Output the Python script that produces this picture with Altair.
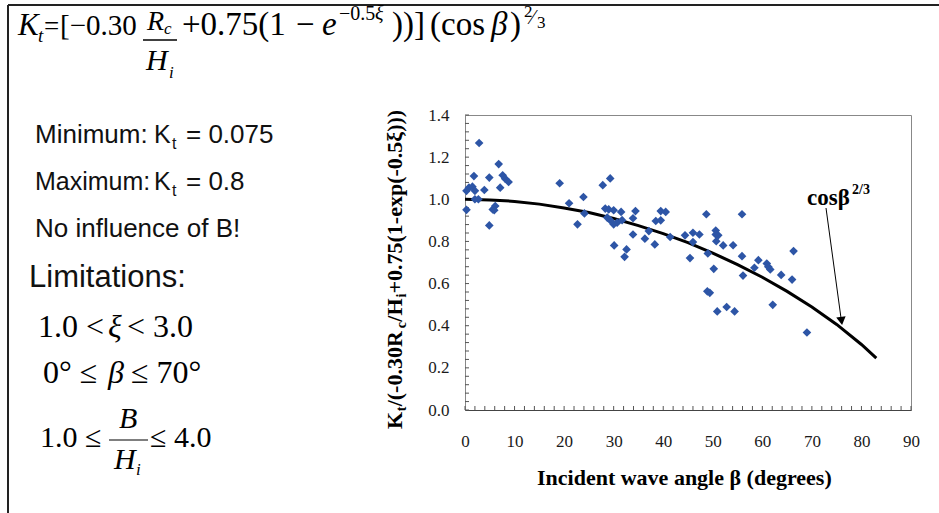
import altair as alt
import pandas as pd

# ---------------- data ----------------
beta = [0.3, 0.8, 1.5, 1.8, 2.0, 2.0, 2.7, 0.3, 2.85, 3.9, 4.9, 4.9, 5.6, 6.1, 5.9,
        6.8, 7.6, 8.1, 8.8, 7.1,
        19.1, 21.0, 22.7, 23.9, 24.1, 27.8, 29.3,
        28.3, 29.0, 30.0, 31.5, 28.7, 29.3, 30.0, 30.7, 31.7, 30.1, 32.6, 32.2,
        34.4, 33.9, 33.9, 36.3, 37.1, 38.3, 38.5, 39.5, 39.5, 40.5, 41.4,
        44.4, 46.0, 47.3, 46.0, 45.4, 48.7, 50.6, 50.6, 51.1, 50.7, 52.1, 54.1,
        49.0, 55.9, 55.9, 50.2, 56.1, 59.2, 58.4, 60.9, 61.2, 61.6, 63.8, 66.0,
        66.3, 48.9, 49.4, 50.9, 52.8, 54.4, 62.1, 69.0]
kt_ratio = [1.04, 1.055, 1.06, 1.11, 1.04, 1.0, 1.0, 0.95, 1.267, 1.044, 1.103, 0.876, 0.952, 0.968, 0.948,
            1.167, 1.114, 1.098, 1.082, 1.055,
            1.076, 0.981, 0.881, 1.011, 0.933, 1.067, 1.099,
            0.956, 0.952, 0.948, 0.94, 0.913, 0.901, 0.881, 0.889, 0.901, 0.781, 0.762, 0.727,
            0.944, 0.91, 0.833, 0.813, 0.849, 0.786, 0.897, 0.9, 0.944, 0.94, 0.821,
            0.829, 0.841, 0.833, 0.797, 0.721, 0.929, 0.852, 0.833, 0.829, 0.801, 0.781, 0.782,
            0.743, 0.929, 0.73, 0.67, 0.638, 0.711, 0.675, 0.695, 0.68, 0.667, 0.641, 0.619,
            0.754, 0.563, 0.556, 0.468, 0.489, 0.468, 0.499, 0.368]

curve_beta = [0, 5, 10, 15, 20, 25, 30, 35, 40, 45, 50, 55, 60, 65, 70, 75, 80, 83]
curve_val = [1.0, 0.997, 0.990, 0.977, 0.959, 0.937, 0.909, 0.875, 0.837, 0.794,
             0.745, 0.690, 0.630, 0.563, 0.489, 0.406, 0.311, 0.246]

x_ticks_minor = list(range(0, 91, 2))
y_ticks_minor = [round(i * 0.04, 2) for i in range(0, 36)]
x_labels = list(range(0, 91, 10))
y_labels = [0.0, 0.2, 0.4, 0.6, 0.8, 1.0, 1.2, 1.4]

# ---------------- layout ----------------
W, H = 446, 295
L, T = 465, 115          # plot area origin in the page
SERIF = "Liberation Serif"
SANS = "Liberation Sans"

xs = alt.Scale(domain=[0, 90], nice=False, zero=False)
ys = alt.Scale(domain=[0, 1.4], nice=False, zero=False)

pts = pd.DataFrame({"beta": beta, "kt": kt_ratio})
cur = pd.DataFrame({"beta": curve_beta, "kt": curve_val})
ONE = pd.DataFrame({"a": [0]})


def label(txt, x, y, size, font=SERIF, style="normal", weight="normal", angle=0, color="#000"):
    kw = dict(text=txt, font=font, fontSize=size, fontStyle=style, fontWeight=weight,
              align="left", baseline="alphabetic", color=color)
    if angle:
        kw["angle"] = angle
    return alt.Chart(ONE).mark_text(**kw).encode(x=alt.value(x - L), y=alt.value(y - T))


def hrule(x1, x2, y, color="#000", w=1.0):
    return alt.Chart(ONE).mark_rule(color=color, strokeWidth=w).encode(
        x=alt.value(x1 - L), x2=alt.value(x2 - L), y=alt.value(y - T))


def vrule(x, y1, y2, color="#000", w=1.0):
    return alt.Chart(ONE).mark_rule(color=color, strokeWidth=w).encode(
        x=alt.value(x - L), y=alt.value(y1 - T), y2=alt.value(y2 - T))


# axes (first layer) with labels only
axes = alt.Chart(pd.DataFrame({"beta": [0, 90], "kt": [0, 1.4]})).mark_point(opacity=0).encode(
    x=alt.X("beta:Q", scale=xs, axis=alt.Axis(values=x_labels, title=None, grid=False, ticks=False,
            tickSize=0, labelPadding=23, labelFont=SERIF, labelFontSize=17, labelColor="#1a1a1a",
            domainColor="#444", labelFlush=False)),
    y=alt.Y("kt:Q", scale=ys, axis=alt.Axis(values=y_labels, format=".1f", title=None, grid=False,
            ticks=False, tickSize=0, labelPadding=16, labelFont=SERIF, labelFontSize=17,
            labelColor="#1a1a1a", domain=False)),
)

layers = [axes]

# minor ticks (inward)
layers.append(alt.Chart(pd.DataFrame({"beta": x_ticks_minor})).mark_rule(color="#555", strokeWidth=1).encode(
    x=alt.X("beta:Q", scale=xs), y=alt.value(H), y2=alt.value(H - 4)))
layers.append(alt.Chart(pd.DataFrame({"kt": y_ticks_minor})).mark_rule(color="#555", strokeWidth=1).encode(
    y=alt.Y("kt:Q", scale=ys), x=alt.value(0), x2=alt.value(4)))

# curve
layers.append(alt.Chart(cur).mark_line(color="#000", strokeWidth=3).encode(
    x=alt.X("beta:Q", scale=xs), y=alt.Y("kt:Q", scale=ys)))

# scatter
layers.append(alt.Chart(pts).mark_point(shape="diamond", filled=True, color="#2D55A6",
                                        size=75, opacity=1).encode(
    x=alt.X("beta:Q", scale=xs), y=alt.Y("kt:Q", scale=ys)))

# outer frame (top and left lines of the slide box)
layers.append(hrule(8, 939, 5, color="#222", w=2))
layers.append(vrule(8, 5, 513, color="#222", w=2))

# ---- formula at the top ----
layers += [
    label("K", 18, 35, 31, style="italic"),
    label("t", 38, 42, 19, style="italic"),
    label("=", 44, 35, 27),
    label("[\u22120.30", 60, 35, 29),
    label("R", 147, 30, 28, style="italic"),
    label("c", 164, 34, 17, style="italic"),
    hrule(143, 177, 40, w=1.3),
    label("H", 146, 70, 30, style="italic"),
    label("i", 169, 78, 17, style="italic"),
    label("+0.75(1", 182, 35, 33),
    label("\u2212", 296, 35, 33),
    label("e", 322, 35, 33, style="italic"),
    label("\u22120.5", 339, 20, 20),
    label("\u03be", 375, 20, 20, style="italic"),
    label("))]", 392, 35, 33),
    label("(cos", 430, 35, 33),
    label("\u03b2", 491, 35, 33, style="italic"),
    label(")", 510, 35, 33),
    label("2", 524, 17, 17),
    label("\u2044", 531, 24, 20),
    label("3", 537, 28, 17),
]

# ---- left text block ----
for y, head, hs, tail in [(143, "Minimum:", 26, "= 0.075"), (190, "Maximum:", 25, "= 0.8")]:
    layers += [
        label(head, 35, y, hs, font=SANS, color="#111"),
        label("K", 154, y, 25, font=SANS, color="#111"),
        label("t", 172, y + 6, 16, font=SANS, color="#111"),
        label(tail, 186, y, 26, font=SANS, color="#111"),
    ]
layers += [
    label("No influence of B!", 35, 237, 26, font=SANS, color="#111"),
    label("Limitations:", 29, 287, 31, font=SANS, color="#111"),
    label("1.0 <", 38, 337, 32),
    label("\u03be", 108, 337, 32, style="italic"),
    label("< 3.0", 127, 337, 32),
    label("0\u00b0 \u2264", 43, 383, 32),
    label("\u03b2", 108, 383, 32, style="italic"),
    label("\u2264 70\u00b0", 131, 383, 32),
    label("1.0 \u2264", 40, 447, 30),
    label("B", 119, 428, 30, style="italic"),
    hrule(109, 148, 440, w=1.2),
    label("H", 114, 469, 30, style="italic"),
    label("i", 136, 475, 17, style="italic"),
    label("\u2264 4.0", 150, 447, 30),
]

# ---- y-axis title built from pieces (rotated), laid out bottom-to-top ----
TB = {'K': .778, 't': .333, '/': .278, '(': .333, ')': .333, '-': .333, '0': .5, '1': .5,
      '3': .5, '5': .5, '7': .5, '.': .25, 'R': .722, 'c': .444, 'H': .778, 'i': .278,
      '+': .57, 'e': .444, 'x': .5, 'p': .556, '\u03be': .45}
ytitle_runs = [("K", 0), ("t", 1), ("/(-0.30R", 0), ("c", 1), ("/H", 0), ("i", 1),
               ("+0.75(1-exp(-0.5\u03be)))", 0)]
ypos = 429.0
for txt, sub in ytitle_runs:
    sz = 14 if sub else 22
    layers.append(label(txt, 406 if sub else 402, ypos, sz, weight="bold", angle=270))
    ypos -= sum(TB.get(ch, .5) for ch in txt) * sz * 1.04

# ---- x title and curve annotation ----
layers += [
    label("Incident wave angle \u03b2 (degrees)", 537, 485, 22, weight="bold"),
    label("cos\u03b2", 807, 205, 23, weight="bold"),
    label("2/3", 852, 194, 14, weight="bold"),
]

# arrow
layers.append(alt.Chart(ONE).mark_rule(color="#000", strokeWidth=1).encode(
    x=alt.value(826 - L), x2=alt.value(841 - L), y=alt.value(208 - T), y2=alt.value(318 - T)))
layers.append(alt.Chart(ONE).mark_point(shape="triangle-down", filled=True, color="#000",
                                        size=90, angle=352, opacity=1).encode(
    x=alt.value(841.5 - L), y=alt.value(321 - T)))

chart = alt.layer(*layers).properties(
    width=W, height=H,
    autosize=alt.AutoSizeParams(type="none"),
    padding={"left": L, "top": T, "right": 939 - L - W, "bottom": 513 - T - H},
    background="white",
).configure_view(stroke="#888", strokeWidth=1)

chart.save("out.html", embed_options={"renderer": "svg", "actions": False})
